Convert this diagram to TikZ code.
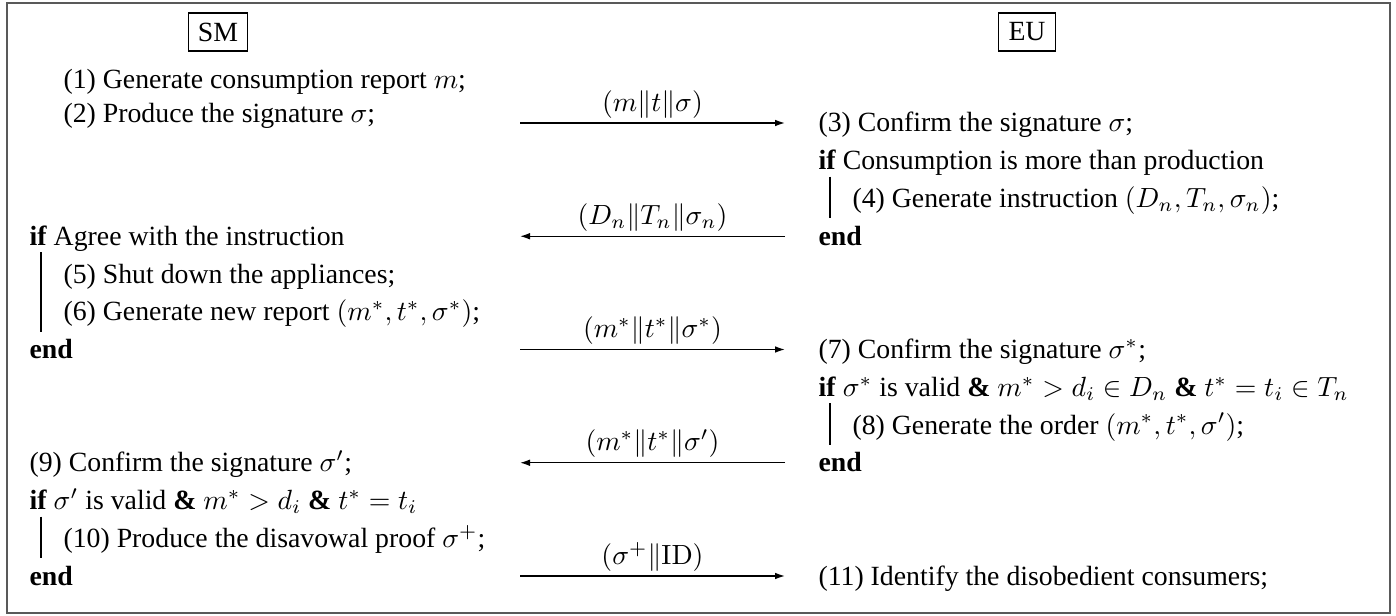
\documentclass[tikz,border=0pt]{standalone}
\usepackage[no-math]{fontspec}
\setmainfont{Liberation Serif}
\usepackage{amsmath,amssymb}
\usetikzlibrary{arrows.meta,positioning,calc}

\begin{document}
\begin{tikzpicture}[
  x=0.36pt, y=-0.36pt,
  every node/.style={font=\fontsize{10}{12}\selectfont},
  party/.style={draw, line width=0.5pt, inner sep=3.5pt},
  ln/.style={anchor=base west, inner sep=0pt},
  msg/.style={-{Latex[length=3.6pt,width=2.4pt]}, line width=0.5pt},
  lbl/.style={above, inner sep=1.5pt},
  vbar/.style={line width=0.5pt},
]
\useasboundingbox (0,0) rectangle (1396,616);
\draw[black!65, line width=0.7pt] (7,3) rectangle (1390,613);

\node[party] (sm) at (218,32) {SM};
\node[party] (eu) at (1027,32) {EU};

% smart meter side
\node[ln] (s1) at (63,89) {(1) Generate consumption report $m$;};
\node[ln] (s2) at (63,123) {(2) Produce the signature $\sigma$;};
\node[ln] (sif1) at (29,245.25) {\textbf{if} Agree with the instruction};
\node[ln] (s5) at (63,283) {(5) Shut down the appliances;};
\node[ln] (s6) at (63,320.75) {(6) Generate new report $(m^*, t^*, \sigma^*)$;};
\node[ln] (send1) at (29,358.5) {\textbf{end}};
\node[ln] (s9) at (29,471.75) {(9) Confirm the signature $\sigma'$;};
\node[ln] (sif2) at (29,509.5) {\textbf{if} $\sigma'$ is valid \textbf{\&} $m^* > d_i$ \textbf{\&} $t^* = t_i$};
\node[ln] (s10) at (63,547.25) {(10) Produce the disavowal proof $\sigma^+$;};
\node[ln] (send2) at (29,585) {\textbf{end}};

% utility side
\node[ln] (e3) at (818,132) {(3) Confirm the signature $\sigma$;};
\node[ln] (eif1) at (818,169.75) {\textbf{if} Consumption is more than production};
\node[ln] (e4) at (852,207.5) {(4) Generate instruction $(D_n, T_n, \sigma_n)$;};
\node[ln] (eend1) at (818,245.25) {\textbf{end}};
\node[ln] (e7) at (818,358.5) {(7) Confirm the signature $\sigma^*$;};
\node[ln] (eif2) at (818,396.25) {\textbf{if} $\sigma^*$ is valid \textbf{\&} $m^* > d_i \in D_n$ \textbf{\&} $t^* = t_i \in T_n$};
\node[ln] (e8) at (852,434) {(8) Generate the order $(m^*, t^*, \sigma')$;};
\node[ln] (eend2) at (818,471.75) {\textbf{end}};
\node[ln] (e11) at (818,585) {(11) Identify the disobedient consumers;};

% block rules
\foreach \a/\b in {sif1/send1, sif2/send2, eif1/eend1, eif2/eend2}
  \draw[vbar] ($(\a.base west)+(12,7)$) -- ($(\b.base west)+(12,-27)$);

% messages
\foreach \i/\y in {1/123, 2/236.25, 3/349.5, 4/462.75, 5/576} {
  \coordinate (l\i) at (520,\y);
  \coordinate (r\i) at (785,\y);
}
\draw[msg] (l1) -- node[lbl] {$(m\|t\|\sigma)$} (r1);
\draw[msg] (r2) -- node[lbl] {$(D_n\|T_n\|\sigma_n)$} (l2);
\draw[msg] (l3) -- node[lbl] {$(m^*\|t^*\|\sigma^*)$} (r3);
\draw[msg] (r4) -- node[lbl] {$(m^*\|t^*\|\sigma')$} (l4);
\draw[msg] (l5) -- node[lbl] {$(\sigma^+\|\mathrm{ID})$} (r5);
\end{tikzpicture}
\end{document}
